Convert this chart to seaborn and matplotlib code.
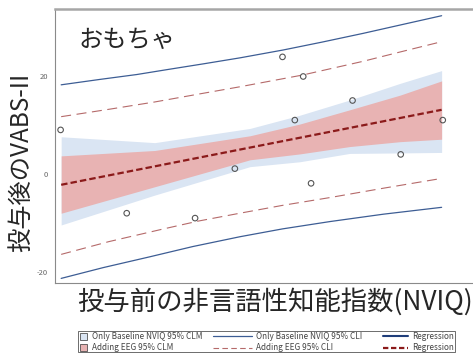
import matplotlib
matplotlib.use("Agg")
import matplotlib.pyplot as plt
import seaborn as sns
from matplotlib.patches import Rectangle, Patch
from matplotlib.lines import Line2D
from matplotlib.legend_handler import HandlerPatch

sns.set_style("white")
plt.rcParams['font.family'] = ['Noto Sans CJK JP', 'DejaVu Sans']

# ---------------- data ----------------
nviq_pts = [46.4, 58.2, 70.4, 77.5, 86.0, 88.2, 89.7, 91.1, 98.5, 107.1, 114.6]
vabs_pts = [9.0, -8.0, -9.0, 1.1, 23.9, 11.0, 19.9, -1.9, 15.0, 4.0, 11.0]

reg_x = [46.5, 114.4]
reg_y = [-2.2, 13.1]

band_x = [46.5, 63.2, 80.2, 89.1, 98.0, 107.0, 114.4]
base_clm_hi = [7.6, 6.4, 9.3, 12.0, 15.1, 18.5, 21.1]
base_clm_lo = [-10.4, -4.3, 1.5, 2.5, 4.2, 4.3, 4.4]
eeg_clm_hi = [3.7, 4.8, 7.8, 10.2, 13.1, 16.1, 19.0]
eeg_clm_lo = [-8.0, -2.6, 2.9, 4.1, 5.6, 6.6, 7.1]

base_cli_hi_x = [46.5, 53.4, 60.0, 65.4, 72.0, 78.4, 86.1, 93.0, 100.4, 107.0, 114.4]
base_cli_hi_y = [18.2, 19.3, 20.3, 21.3, 22.5, 23.7, 25.3, 26.9, 28.7, 30.4, 32.3]
base_cli_lo_x = [46.5, 54.0, 62.3, 70.0, 78.4, 86.0, 94.5, 104.0, 114.4]
base_cli_lo_y = [-21.3, -19.1, -16.9, -14.8, -12.8, -11.2, -9.7, -8.2, -6.8]

eeg_cli_hi_x = [46.5, 55.0, 63.2, 71.0, 78.4, 89.6, 100.4, 107.0, 114.4]
eeg_cli_hi_y = [11.7, 13.2, 14.7, 16.3, 17.8, 20.2, 23.0, 24.9, 27.0]
eeg_cli_lo_x = [46.5, 55.0, 64.4, 71.0, 78.4, 86.0, 94.5, 104.0, 114.4]
eeg_cli_lo_y = [-16.4, -13.8, -11.3, -9.6, -8.0, -6.4, -4.8, -2.9, -0.9]

yticks = [-20, 0, 20]
xticks = [60, 80, 100]

legend_labels_clm = ["Only Baseline NVIQ 95% CLM", "Adding EEG 95% CLM"]
legend_labels_cli = ["Only Baseline NVIQ 95% CLI", "Adding EEG 95% CLI"]
legend_labels_reg = ["Regression", "Regression"]

title_text = "おもちゃ"
ylabel_text = "投与後のVABS-II"
xlabel_text = "投与前の非言語性知能指数(NVIQ)"

# ---------------- styles ----------------
c_blue_band = "#dae5f3"
c_red_band = "#e8b3b3"
c_blue_line = "#3d5d94"
c_red_cli = "#b56a6a"
c_reg_red = "#8b1a1a"
c_reg_blue = "#1f3d7a"

W, H = 473, 355
fig = plt.figure(figsize=(W / 100, H / 100), dpi=100)
ax = fig.add_axes([55 / W, 72 / H, (W - 55) / W, 274 / H])

ax.fill_between(band_x, base_clm_lo, base_clm_hi, color=c_blue_band, lw=0, zorder=1)
ax.fill_between(band_x, eeg_clm_lo, eeg_clm_hi, color=c_red_band, lw=0, zorder=2)

sns.lineplot(x=base_cli_hi_x, y=base_cli_hi_y, ax=ax, color=c_blue_line, lw=0.9, zorder=3)
sns.lineplot(x=base_cli_lo_x, y=base_cli_lo_y, ax=ax, color=c_blue_line, lw=0.9, zorder=3)
sns.lineplot(x=eeg_cli_hi_x, y=eeg_cli_hi_y, ax=ax, color=c_red_cli, lw=0.8,
             linestyle=(0, (9, 5)), zorder=3)
sns.lineplot(x=eeg_cli_lo_x, y=eeg_cli_lo_y, ax=ax, color=c_red_cli, lw=0.8,
             linestyle=(0, (9, 5)), zorder=3)
sns.lineplot(x=reg_x, y=reg_y, ax=ax, color=c_reg_red, lw=1.6,
             linestyle=(0, (2.9, 1.4)), zorder=4)

sns.scatterplot(x=nviq_pts, y=vabs_pts, ax=ax, s=16, marker="o",
                color="none", edgecolor="#555555", linewidth=0.8, zorder=5)
for coll in ax.collections[-1:]:
    coll.set_facecolor("none")
    coll.set_edgecolor("#555555")

ax.set_xlim(45.4, 120)
ax.set_ylim(-22.24, 33.67)
ax.set_yticks(yticks)
ax.set_yticklabels([str(v) for v in yticks])
ax.set_xticks(xticks)
ax.set_xticklabels([])
ax.tick_params(axis="both", direction="out", length=3, width=0.6,
               colors="#666666", labelsize=5.5, pad=2)
ax.grid(False)
ax.spines["right"].set_visible(False)
ax.spines["top"].set_color("#a6a6a6")
ax.spines["top"].set_linewidth(1.8)
for s in ("left", "bottom"):
    ax.spines[s].set_color("#8a8a8a")
    ax.spines[s].set_linewidth(0.8)

fig.text(78 / W, 1 - 40 / H, title_text, fontsize=17.5, ha="left", va="center")
fig.text(21 / W, 1 - 162 / H, ylabel_text, fontsize=17.5, rotation=90,
         ha="center", va="center")
fig.text(77 / W, 1 - 302 / H, xlabel_text, fontsize=19, ha="left", va="center")

# ---------------- legend ----------------
def square_patch(legend, orig_handle, xdescent, ydescent, width, height, fontsize):
    s = height * 1.0
    return Rectangle((-xdescent, -ydescent + (height - s) / 2), s, s)

leg_font = dict(fontsize=5.9)
h1 = [Patch(facecolor=c_blue_band, edgecolor="#333333", lw=0.5),
      Patch(facecolor=c_red_band, edgecolor="#333333", lw=0.5)]
h2 = [Line2D([], [], color=c_blue_line, lw=0.9),
      Line2D([], [], color=c_red_cli, lw=0.8, linestyle=(0, (5, 3)))]
h3 = [Line2D([], [], color=c_reg_blue, lw=1.5),
      Line2D([], [], color=c_reg_red, lw=1.6, linestyle=(0, (2.4, 1.2)))]

common = dict(frameon=False, borderpad=0, labelspacing=0.3, handletextpad=0.5,
              borderaxespad=0, loc="upper left", labelcolor="#444444", **leg_font)
fig.legend(h1, legend_labels_clm, bbox_to_anchor=(80 / W, 1 - 332 / H),
           handlelength=1.0, handleheight=1.0,
           handler_map={Patch: HandlerPatch(patch_func=square_patch)}, **common)
fig.legend(h2, legend_labels_cli, bbox_to_anchor=(213 / W, 1 - 332 / H),
           handlelength=4.8, **common)
fig.legend(h3, legend_labels_reg, bbox_to_anchor=(383 / W, 1 - 332 / H),
           handlelength=3.0, **common)
fig.add_artist(Rectangle((78 / W, 3 / H), (455 - 78) / W, (352 - 331) / H,
                         transform=fig.transFigure, fill=False,
                         edgecolor="#555555", lw=0.6))

fig.savefig("out.png", dpi=100)
